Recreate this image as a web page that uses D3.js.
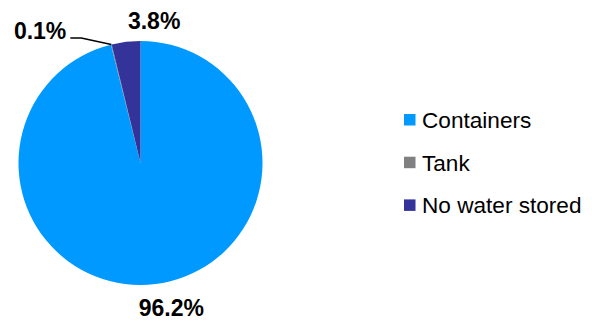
<!DOCTYPE html>
<html>
<head>
<meta charset="utf-8">
<script src="https://cdn.jsdelivr.net/npm/d3@7/dist/d3.min.js"></script>
<style>
  html, body { margin: 0; padding: 0; background: #fff; }
  svg { display: block; }
</style>
</head>
<body>
<svg id="chart" width="592" height="323"></svg>
<script>
// Water storage type, share of households (%)
const categories = ["Containers", "Tank", "No water stored"];
const values = [96.2, 0.1, 3.8];
const valueLabels = ["96.2%", "0.1%", "3.8%"];
const colors = ["#0099FF", "#808080", "#333399"];

const svg = d3.select("#chart");
const cx = 140.5, cy = 163, radius = 122;

const pie = d3.pie().sort(null).value(d => d)
  .startAngle(0).endAngle(2 * Math.PI);
const arcs = pie(values);
const arc = d3.arc().innerRadius(0).outerRadius(radius);

const g = svg.append("g").attr("transform", `translate(${cx},${cy})`);

g.selectAll("path.slice")
  .data(arcs)
  .join("path")
  .attr("class", "slice")
  .attr("d", arc)
  .attr("fill", (d, i) => colors[i]);

// polar helper: angle measured clockwise from 12 o'clock
const polar = (a, r) => [r * Math.sin(a), -r * Math.cos(a)];
const mid = d => (d.startAngle + d.endAngle) / 2;

// label placement: radius and nudges per slice
const labelPlace = [
  { r: 146, dx: 13, dy: 0 },
  { r: 0, dx: 0, dy: 0 },
  { r: 146, dx: 31, dy: 2.5 }
];

const labelFont = "bold 23px 'Liberation Sans', Arial, sans-serif";

// Containers and No water stored labels
[0, 2].forEach(i => {
  const [x, y] = polar(mid(arcs[i]), labelPlace[i].r);
  g.append("text")
    .attr("x", x + labelPlace[i].dx)
    .attr("y", y + labelPlace[i].dy)
    .attr("text-anchor", "middle")
    .attr("dominant-baseline", "central")
    .style("font", labelFont)
    .attr("fill", "#000")
    .text(valueLabels[i]);
});

// Tank label with leader line
{
  const a = mid(arcs[1]);
  const [ex, ey] = polar(a, radius);
  const elbow = [ex - 30, ey - 6.5];
  const tail = [elbow[0] - 11, elbow[1]];
  g.append("polyline")
    .attr("points", [[ex, ey], elbow, tail].map(p => p.join(",")).join(" "))
    .attr("fill", "none")
    .attr("stroke", "#000")
    .attr("stroke-width", 1.5);
  g.append("text")
    .attr("x", tail[0] - 4)
    .attr("y", tail[1] + 0.5)
    .attr("text-anchor", "end")
    .style("font", labelFont)
    .attr("fill", "#000")
    .text(valueLabels[1]);
}

// Legend
const legend = svg.append("g").attr("transform", "translate(404,114)");
const rowStep = 42.7;
const items = legend.selectAll("g.item")
  .data(categories)
  .join("g")
  .attr("class", "item")
  .attr("transform", (d, i) => `translate(0,${i * rowStep})`);
items.append("rect")
  .attr("width", 11.5)
  .attr("height", 11.5)
  .attr("fill", (d, i) => colors[i]);
items.append("text")
  .attr("x", 18)
  .attr("y", 14)
  .style("font", "22.6px 'Liberation Sans', Arial, sans-serif")
  .attr("fill", "#000")
  .text(d => d);
</script>
</body>
</html>
